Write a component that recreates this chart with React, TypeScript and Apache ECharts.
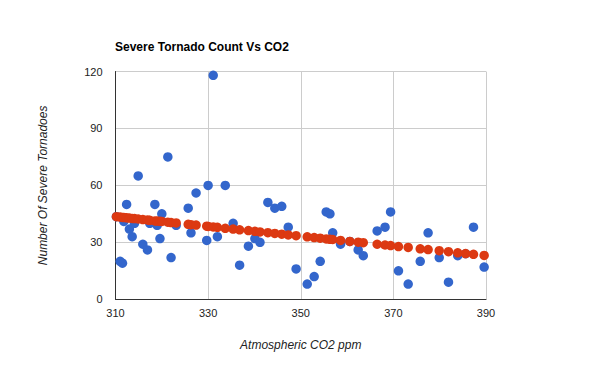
import React, { useEffect, useRef } from "react";
import * as echarts from "echarts";

// Observed: atmospheric CO2 (ppm) vs severe tornado count
const co2Values: number[] = [
  310.2, 311.0, 311.5, 311.8, 312.4, 313.0, 313.6, 314.1, 314.9, 315.9,
  316.9, 317.4, 318.5, 319.0, 319.6, 320.0, 321.3, 322.0, 323.1, 325.7,
  326.3, 327.4, 329.7, 330.0, 331.1, 332.0, 333.7, 335.4, 336.8, 338.7,
  340.1, 341.2, 342.9, 344.4, 345.9, 347.3, 349.0, 351.4, 352.9, 354.2,
  355.5, 356.3, 356.9, 358.6, 360.6, 362.4, 363.5, 366.5, 368.2, 369.4,
  371.1, 373.2, 375.8, 377.5, 379.9, 381.9, 383.9, 385.6, 387.3, 389.6,
];
const tornadoCounts: number[] = [
  43.5, 20, 19, 41, 50, 37, 33, 40, 65, 29,
  26, 40, 50, 39, 32, 45, 75, 22, 39, 48,
  35, 56, 31, 60, 118, 33, 60, 40, 18, 28,
  32, 30, 51, 48, 49, 38, 16, 8, 12, 20,
  46, 45, 35, 29, 30.5, 26, 23, 36, 38, 46,
  15, 8, 20, 35, 22, 9, 23, 24, 38, 17,
];
// Linear trend values read at each CO2 value
const trendValues: number[] = [
  43.5, 43.3, 43.1, 43.1, 42.9, 42.8, 42.6, 42.5, 42.3, 42.0,
  41.8, 41.6, 41.3, 41.2, 41.1, 41.0, 40.6, 40.4, 40.2, 39.5,
  39.3, 39.1, 38.5, 38.4, 38.1, 37.9, 37.4, 37.0, 36.6, 36.2,
  35.8, 35.5, 35.1, 34.7, 34.3, 33.9, 33.5, 32.9, 32.5, 32.2,
  31.8, 31.6, 31.5, 31.0, 30.5, 30.1, 29.8, 29.0, 28.6, 28.3,
  27.8, 27.3, 26.6, 26.2, 25.6, 25.1, 24.5, 24.1, 23.7, 23.1,
];
const xTicks: number[] = [310, 330, 350, 370, 390];
const yTicks: number[] = [0, 30, 60, 90, 120];

const FONT = "'Liberation Sans', Arial, sans-serif";

export default function App() {
  const ref = useRef<HTMLDivElement>(null);
  useEffect(() => {
    document.body.style.margin = "0";
    if (!ref.current) return;
    const chart = echarts.init(ref.current, undefined, { renderer: "svg" });
    const scatterData = co2Values.map((x, i) => [x, tornadoCounts[i]]);
    const trendData = co2Values.map((x, i) => [x, trendValues[i]]);
    chart.setOption({
      animation: false,
      backgroundColor: "#ffffff",
      title: {
        text: "Severe Tornado Count Vs CO2",
        left: 110,
        top: 36,
        textStyle: { fontFamily: FONT, fontSize: 12, fontWeight: "bold", color: "#000" },
      },
      grid: { left: 115.5, top: 71.5, width: 370.5, height: 227.8, containLabel: false },
      xAxis: {
        type: "value",
        min: xTicks[0],
        max: xTicks[xTicks.length - 1],
        interval: 20,
        name: "Atmospheric CO2 ppm",
        nameLocation: "middle",
        nameGap: 40,
        nameTextStyle: { fontFamily: FONT, fontSize: 12, fontStyle: "italic", color: "#222" },
        axisLine: { show: true, onZero: false, lineStyle: { color: "#333", width: 1 } },
        axisTick: { show: false },
        axisLabel: { margin: 8, fontFamily: FONT, fontSize: 11, color: "#222" },
        splitLine: { show: true, lineStyle: { color: "#cccccc", width: 1 } },
      },
      yAxis: {
        type: "value",
        min: yTicks[0],
        max: yTicks[yTicks.length - 1],
        interval: 30,
        name: "Number Of Severe Tornadoes",
        nameLocation: "middle",
        nameGap: 67,
        nameRotate: 90,
        nameTextStyle: { fontFamily: FONT, fontSize: 12, fontStyle: "italic", color: "#222" },
        axisLine: { show: true, onZero: false, lineStyle: { color: "#333", width: 1 } },
        axisTick: { show: false },
        axisLabel: { margin: 13, fontFamily: FONT, fontSize: 11, color: "#222" },
        splitLine: { show: true, lineStyle: { color: "#cccccc", width: 1 } },
      },
      series: [
        {
          type: "scatter",
          data: scatterData,
          symbolSize: 9.5,
          itemStyle: { color: "#3366cc", opacity: 1 },
          z: 2,
        },
        {
          type: "scatter",
          data: trendData,
          symbolSize: 9.5,
          itemStyle: { color: "#dc3912", opacity: 1 },
          z: 3,
        },
      ],
    });
    return () => chart.dispose();
  }, []);
  return <div ref={ref} style={{ width: 600, height: 371 }} />;
}
